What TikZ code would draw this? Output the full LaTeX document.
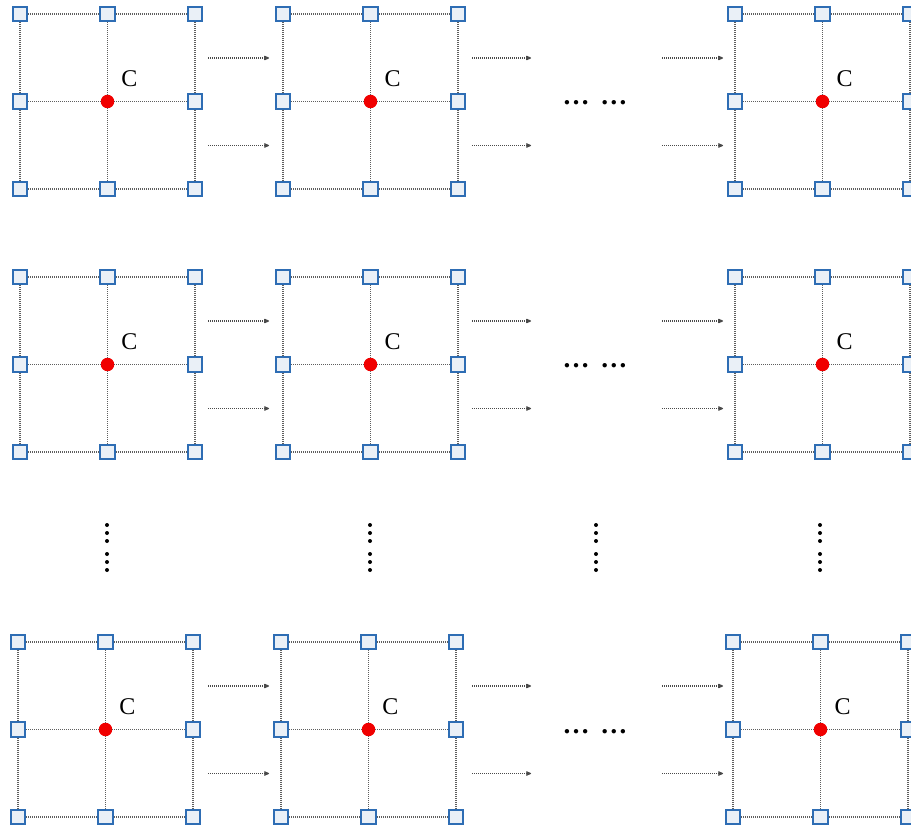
\documentclass[tikz,border=0pt]{standalone}
\usepackage{fontspec}
\setmainfont{Liberation Serif}
\usetikzlibrary{arrows.meta}
\definecolor{sqblue}{HTML}{2E6DB4}
\definecolor{sqfill}{HTML}{EAF0F7}
\definecolor{ctrred}{HTML}{F00000}
\definecolor{lngray}{HTML}{5E5E5E}
\definecolor{argray}{HTML}{4A4A4A}
\begin{document}
\begin{tikzpicture}[x=1pt,y=-1pt,
  gridline/.style={draw=lngray, dash pattern=on 1pt off 1pt, line width=1.5pt},
  sq/.style={rectangle, draw=sqblue, fill=sqfill, line width=2pt, minimum size=14.5pt, inner sep=0pt},
  ctr/.style={circle, fill=ctrred, minimum size=13.5pt, inner sep=0pt},
  lbl/.style={font=\fontsize{24}{24}\selectfont, inner sep=0pt},
  arr/.style={draw=argray, dash pattern=on 1pt off 1pt, line width=1.4pt, -{Stealth[length=7pt,width=6pt,round]}},
  hdots/.style={font=\fontsize{27}{27}\selectfont\bfseries, inner sep=0pt, anchor=base},
  vdot/.style={circle, fill=black, minimum size=4pt, inner sep=0pt}]
\useasboundingbox (0,0) rectangle (911,826);
\clip (0,0) rectangle (911,826);
% grids
\foreach \gx/\gy/\n in {20/14/a, 283/14/b, 735/14/c, 20/277/d, 283/277/e, 735/277/f, 18/642/g, 281/642/h, 733/642/i}{
  \foreach \i in {0,1,2}{
    \foreach \j in {0,1,2}{
      \ifnum\i\j=11
        \node[ctr] (\n-\i-\j) at (\gx+87.5*\i, \gy+87.5*\j) {};
      \else
        \node[sq] (\n-\i-\j) at (\gx+87.5*\i, \gy+87.5*\j) {};
      \fi
    }
  }
  \foreach \k in {0,1,2}{
    \draw[gridline] (\n-0-\k) -- (\n-1-\k);
    \draw[gridline] (\n-1-\k) -- (\n-2-\k);
    \draw[gridline] (\n-\k-0) -- (\n-\k-1);
    \draw[gridline] (\n-\k-1) -- (\n-\k-2);
  }
  \node[lbl] (\n-C) at (\gx+87.5+22, \gy+87.5-23) {C};
}
% arrows
\foreach \ry/\r in {14/a, 277/b, 642/c}{
  \foreach \xs/\xe/\m in {208/269/1, 472/531/2, 662/723/3}{
    \coordinate (\r-\m-us) at (\xs, \ry+44);
    \coordinate (\r-\m-ue) at (\xe, \ry+44);
    \coordinate (\r-\m-ls) at (\xs, \ry+131.5);
    \coordinate (\r-\m-le) at (\xe, \ry+131.5);
    \draw[arr] (\r-\m-us) -- (\r-\m-ue);
    \draw[arr] (\r-\m-ls) -- (\r-\m-le);
  }
  \node[hdots] (\r-dots) at (595, \ry+91) {…\hspace{11pt}…};
}
% vertical dots
\foreach \vx/\v in {107/1, 370/2, 596/3, 820/4}{
  \foreach \vy/\w in {525/1, 533/2, 541/3, 554/4, 562/5, 570/6}{
    \node[vdot] (vd-\v-\w) at (\vx, \vy) {};
  }
}
\end{tikzpicture}
\end{document}
